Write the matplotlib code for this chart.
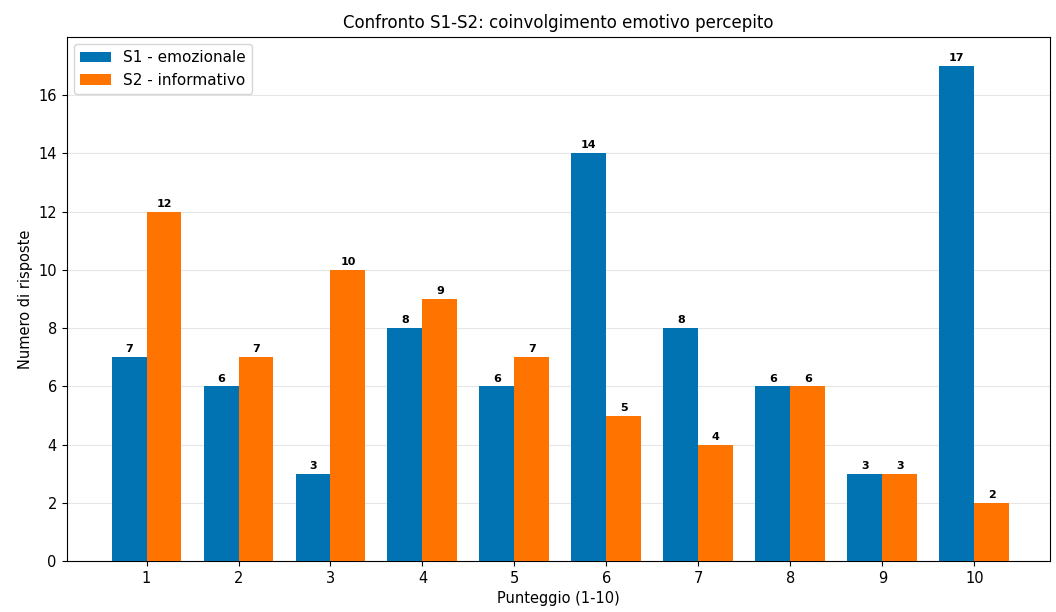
import matplotlib
matplotlib.use("Agg")
import matplotlib.pyplot as plt
import numpy as np

scores = [1, 2, 3, 4, 5, 6, 7, 8, 9, 10]
s1_values = [7, 6, 3, 8, 6, 14, 8, 6, 3, 17]
s2_values = [12, 7, 10, 9, 7, 5, 4, 6, 3, 2]
s1_label = "S1 - emozionale"
s2_label = "S2 - informativo"

fig = plt.figure(figsize=(10.56, 6.12), dpi=100)
ax = fig.add_axes([0.063, 0.083, 0.931, 0.857])

x = np.array(scores)
w = 0.38
b1 = ax.bar(x - w/2, s1_values, w, color="#0173b2", label=s1_label, zorder=3)
b2 = ax.bar(x + w/2, s2_values, w, color="#ff7400", label=s2_label, zorder=3)
for bars in (b1, b2):
    for r in bars:
        ax.annotate(f"{int(r.get_height())}", (r.get_x() + r.get_width()/2, r.get_height()),
                    xytext=(0, 2), textcoords="offset points", ha="center", va="bottom",
                    fontsize=8, fontweight="semibold")

ax.set_xticks(x)
ax.set_xticklabels([str(s) for s in scores], fontsize=10)
ax.set_xlim(0.13, 10.82)
ax.set_ylim(0, 18)
ax.set_yticks(range(0, 17, 2))
ax.tick_params(labelsize=10.5)
ax.yaxis.grid(True, color="#e6e6e6", linewidth=0.8, zorder=0)
ax.set_axisbelow(True)
ax.set_xlabel("Punteggio (1-10)", fontsize=10.5)
ax.set_ylabel("Numero di risposte", fontsize=10.5)
ax.set_title("Confronto S1-S2: coinvolgimento emotivo percepito", fontsize=12)
ax.legend(loc="upper left", fontsize=11)

fig.savefig("out.png", dpi=100)
